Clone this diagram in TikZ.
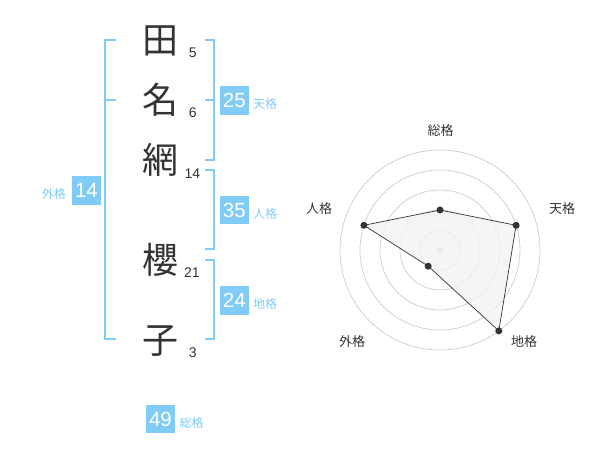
\documentclass[tikz,border=0pt]{standalone}
\usepackage{fontspec}
\setmainfont{Liberation Sans}
\newfontfamily\cjk{Noto Sans CJK JP}
\definecolor{blu}{HTML}{80CCF6}
\definecolor{dark}{HTML}{333333}
\definecolor{ring}{HTML}{CCCCCC}
\definecolor{area}{HTML}{F2F2F2}
\begin{document}
\begin{tikzpicture}[x=1pt,y=-1pt,
  kanji/.style={font=\cjk\fontsize{36}{36}\selectfont, text=dark, inner sep=0, anchor=base},
  strokes/.style={font=\fontsize{14}{14}\selectfont, text=dark, inner sep=0, anchor=base},
  valbox/.style={fill=blu, text=white, minimum size=28.5pt, inner sep=0, font=\fontsize{20.5}{20.5}\selectfont},
  lab/.style={text=blu, font=\cjk\fontsize{12}{12}\selectfont, inner sep=0},
  brk/.style={draw=blu, line width=2pt},
  axislab/.style={text=dark, font=\cjk\fontsize{13}{13}\selectfont, inner sep=0},
  ringc/.style={draw=ring, line width=0.7pt},
  dot/.style={circle, fill=dark, inner sep=0, minimum size=7pt}]
\useasboundingbox (0,0) rectangle (600,470);
% name characters
\node[kanji] (k1) at (160,53.3) {田};
\node[kanji] (k2) at (160,113.3) {名};
\node[kanji] (k3) at (160,173.3) {網};
\node[kanji] (k4) at (160,273.3) {櫻};
\node[kanji] (k5) at (160,353.3) {子};
% stroke counts
\node[strokes] (s1) at (192.7,57.8) {5};
\node[strokes] (s2) at (192.7,117.8) {6};
\node[strokes] (s3) at (192.5,178.2) {14};
\node[strokes] (s4) at (192.0,277.8) {21};
\node[strokes] (s5) at (192.7,358.0) {3};
% brackets
\draw[brk] (116,40) -- (105,40) -- (105,339) -- (116,339);
\draw[brk] (105,100) -- (116,100);
\draw[brk] (205,40) -- (214,40) -- (214,160) -- (205,160);
\draw[brk] (205,100) -- (214,100);
\draw[brk] (205,170) -- (214,170) -- (214,249.5) -- (205,249.5);
\draw[brk] (205,260) -- (214,260) -- (214,339) -- (205,339);
% value boxes
\node[valbox] (ten) at (234.3,100.3) {25};
\node[lab, anchor=west] (tenl) at (253,104) {天格};
\node[valbox] (jin) at (234.3,210.2) {35};
\node[lab, anchor=west] (jinl) at (253,214) {人格};
\node[valbox] (chi) at (234.3,300.3) {24};
\node[lab, anchor=west] (chil) at (253,304) {地格};
\node[valbox] (gai) at (86.5,190.5) {14};
\node[lab, anchor=east] (gail) at (66,194) {外格};
\node[valbox] (sou) at (160.5,419) {49};
\node[lab, anchor=west] (soul) at (179.5,423) {総格};
% radar chart
\coordinate (c) at (440,250);
\foreach \r in {20,40,60,80,100} \draw[ringc] (c) circle[radius=\r];
\fill[ring] (c) circle[radius=3.5];
\coordinate (pS) at (440,210);
\coordinate (pT) at (516.1,225.3);
\coordinate (pC) at (498.8,330.9);
\coordinate (pG) at (428.2,266.2);
\coordinate (pJ) at (363.9,225.3);
\filldraw[fill=area, fill opacity=0.8, draw=dark, line width=0.7pt] (pS) -- (pT) -- (pC) -- (pG) -- (pJ) -- cycle;
\foreach \p in {pS,pT,pC,pG,pJ} \node[dot] at (\p) {};
\node[axislab] (aS) at (440.5,131) {総格};
\node[axislab] (aT) at (562,208.5) {天格};
\node[axislab] (aC) at (524,342) {地格};
\node[axislab] (aG) at (352,342) {外格};
\node[axislab] (aJ) at (319,209) {人格};
\end{tikzpicture}
\end{document}
